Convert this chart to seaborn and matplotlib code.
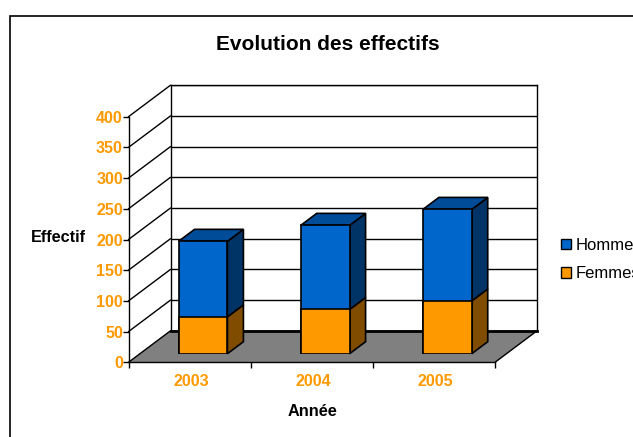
import matplotlib
matplotlib.use("Agg")
import matplotlib.pyplot as plt
from matplotlib.lines import Line2D
from matplotlib.patches import Patch, Polygon, Rectangle
from matplotlib.transforms import IdentityTransform
import pandas as pd
import seaborn as sns

annees = ["2003", "2004", "2005"]
hommes = [123, 137, 149]
femmes = [60, 72, 86]
ticks_y = [0, 50, 100, 150, 200, 250, 300, 350, 400]

sns.set_theme(style="white")
plt.rcParams["font.family"] = ["Liberation Sans", "DejaVu Sans"]

W, H = 633, 437
BLEU, BLEU_H, BLEU_C = "#0066CC", "#004C99", "#003366"
ORANGE, ORANGE_C = "#FF9900", "#7F4C00"
GRIS = "#808080"
TXT_OR = "#FF9900"

df = pd.DataFrame({"annee": annees, "hommes": hommes, "femmes": femmes})
df["total"] = df["hommes"] + df["femmes"]

fig = plt.figure(figsize=(W / 100, H / 100), dpi=100, facecolor="white")


def box(x0, x1, ytop, ybot):
    return [x0 / W, 1 - ybot / H, (x1 - x0) / W, (ybot - ytop) / H]


FX0, FX1, FYT, FYB = 128.5, 495.0, 116.7, 362.3
DX, DY = 42.0, -31.5
BX, BY = 13.4, -8.6
SX, SY = 16.0, -12.0

ax_wall = fig.add_axes(box(FX0 + DX, FX1 + DX, FYT + DY, FYB + DY), zorder=1)
ax_bar = fig.add_axes(box(FX0 + BX, FX1 + BX, FYT + BY, FYB + BY), zorder=2)
ax = fig.add_axes(box(FX0, FX1, FYT, FYB), zorder=3)

for a in (ax_wall, ax_bar, ax):
    a.set_xlim(-0.5, 2.5)
    a.set_ylim(0, 400)
    a.patch.set_alpha(0)
    a.set_yticks(ticks_y)

# Back wall
ax_wall.set_xticks([])
ax_wall.set_yticklabels([])
ax_wall.grid(axis="y", color="black", lw=1)
ax_wall.tick_params(left=False, labelleft=False)
for s in ax_wall.spines.values():
    s.set_color("black")
    s.set_linewidth(1)
ax_wall.spines["bottom"].set_linewidth(2)


def px(a, x, y, dx=0.0, dy=0.0):
    p = a.transData.transform((x, y))
    return (p[0] + dx, p[1] - dy)


def poly(pts, fc, z=1, ec="black", lw=1.0):
    fig.add_artist(Polygon(pts, closed=True, facecolor=fc, edgecolor=ec, lw=lw,
                           transform=IdentityTransform(), zorder=z))


# Floor and left wall drawn from the axis scales, under every axes
poly([px(ax, -0.5, 0), px(ax, 2.5, 0), px(ax_wall, 2.5, 0), px(ax_wall, -0.5, 0)],
     GRIS, z=0.5, ec=GRIS, lw=0.5)
for t in ticks_y:
    p, q = px(ax, -0.5, t), px(ax_wall, -0.5, t)
    fig.add_artist(Line2D([p[0], q[0]], [p[1], q[1]], color="black", lw=1,
                          transform=IdentityTransform(), zorder=0.6))
p, q = px(ax, 2.5, 0), px(ax_wall, 2.5, 0)
fig.add_artist(Line2D([p[0], q[0]], [p[1], q[1]], color="black", lw=1,
                      transform=IdentityTransform(), zorder=0.6))

# Stacked bars
sns.barplot(data=df, x="annee", y="total", order=annees, color=BLEU, saturation=1,
            width=0.4, edgecolor="black", linewidth=1.2, ax=ax_bar, zorder=3)
sns.barplot(data=df, x="annee", y="femmes", order=annees, color=ORANGE, saturation=1,
            width=0.4, edgecolor="black", linewidth=1.2, ax=ax_bar, zorder=4)
ax_bar.set_xlim(-0.5, 2.5)
ax_bar.set_ylim(0, 400)
ax_bar.axis("off")

# Depth faces of the bars, derived from the bar values
W_BAR = 0.4
for i, (h, f) in enumerate(zip(hommes, femmes)):
    x0, x1 = i - W_BAR / 2, i + W_BAR / 2
    tot = h + f
    a = ax_bar
    poly([px(a, x1, 0), px(a, x1, f), px(a, x1, f, SX, SY), px(a, x1, 0, SX, SY)],
         ORANGE_C, z=1.5, lw=1.2)
    poly([px(a, x1, f), px(a, x1, tot), px(a, x1, tot, SX, SY), px(a, x1, f, SX, SY)],
         BLEU_C, z=1.5, lw=1.2)
    poly([px(a, x0, tot), px(a, x1, tot), px(a, x1, tot, SX, SY), px(a, x0, tot, SX, SY)],
         BLEU_H, z=1.5, lw=1.2)
ax_bar.set_zorder(2)

# Front axes: ticks and labels
ax.set_xticks([-0.5, 0.5, 1.5, 2.5])
ax.set_xticklabels([])
ax.set_yticklabels([str(t) for t in ticks_y], color=TXT_OR, fontweight="bold", fontsize=11.5)
ax.tick_params(axis="both", which="major", length=4, width=1, color="black",
               left=True, bottom=True, pad=0)
ax.spines["top"].set_visible(False)
ax.spines["right"].set_visible(False)
for s in ("left", "bottom"):
    ax.spines[s].set_color("black")
    ax.spines[s].set_linewidth(1)
for i, lab in enumerate(annees):
    ax.text(i + 0.012, -31.5, lab, ha="center", va="center", color=TXT_OR,
            fontweight="bold", fontsize=11.5, clip_on=False)

fig.text(327.5 / W, 1 - 44 / H, "Evolution des effectifs", ha="center", va="center",
         fontweight="bold", fontsize=15, color="black")
fig.text(58.5 / W, 1 - 238 / H, "Effectif", ha="center", va="center",
         fontweight="bold", fontsize=11.7, color="black")
fig.text(312 / W, 1 - 411 / H, "Année", ha="center", va="center",
         fontweight="bold", fontsize=11.7, color="black")

# Chart border, running off the right and bottom of the picture
fig.add_artist(Rectangle((9.5, -20), W + 40, H + 20 - 15.5, fill=False, edgecolor="black",
                         lw=1.2, transform=IdentityTransform(), zorder=0.1))

# Legend
handles = [Patch(facecolor=BLEU, edgecolor="black", lw=1, label="Hommes"),
           Patch(facecolor=ORANGE, edgecolor="black", lw=1, label="Femmes")]
fig.legend(handles=handles, loc="upper left", bbox_to_anchor=(561 / W, 1 - 238 / H),
           frameon=False, fontsize=12, handlelength=0.6, handleheight=0.6,
           handletextpad=0.3, labelspacing=0.8, borderpad=0, borderaxespad=0,
           labelcolor="black")

fig.savefig("out.png", dpi=100, facecolor="white")
